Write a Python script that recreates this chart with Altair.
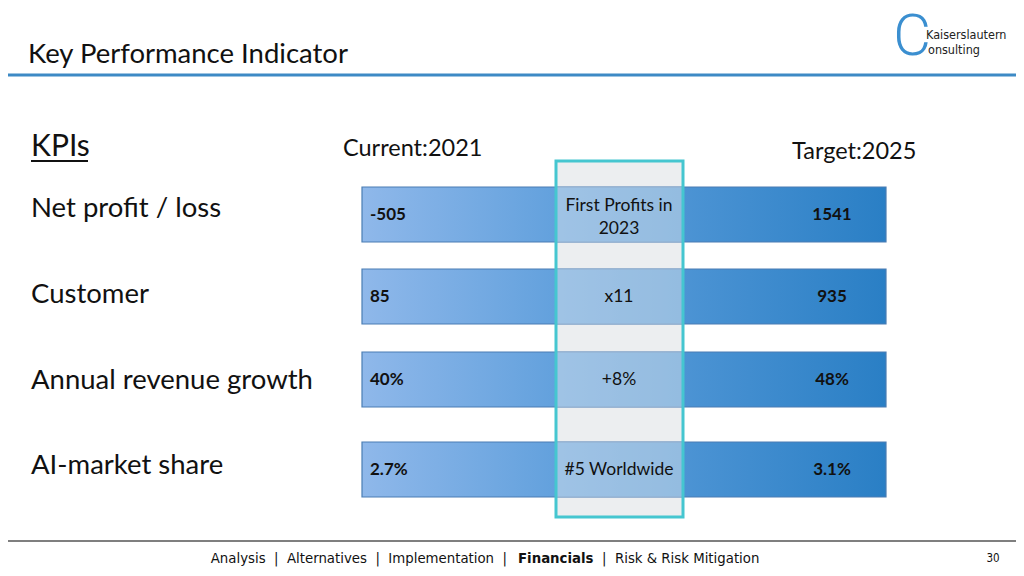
import altair as alt
import pandas as pd

# ---- data ----
kpi_names = ["Net profit / loss", "Customer", "Annual revenue growth", "AI-market share"]
current_vals = ["-505", "85", "40%", "2.7%"]
target_vals = ["1541", "935", "48%", "3.1%"]
middle_notes = ["First Profits in\n2023", "x11", "+8%", "#5 Worldwide"]
current_label = "Current:2021"
target_label = "Target:2025"
title_text = "Key Performance Indicator"
section_text = "KPIs"
NB = "\u00a0"
footer_left = f"Analysis{NB*2}|{NB*2}Alternatives{NB*2}|{NB*2}Implementation{NB*2}|"
footer_bold = "Financials"
footer_right = f"|{NB*2}Risk & Risk Mitigation"
page_no = "30"

# ---- layout (pixel coordinates of the slide) ----
W, H = 1008, 560
row_top = [187, 269, 352, 442]
label_y = [209, 295, 381, 466]
bar_h = 55
line_h = 23
bar_x0, bar_x1 = 362, 886
box_x0, box_x1, box_y0, box_y1 = 556, 683, 161, 517

X = alt.X("x:Q", scale=alt.Scale(domain=[8, 1016], range=[0, W], nice=False, zero=False), axis=None)
X2 = alt.X2("x2:Q")
Y = alt.Y("y:Q", scale=alt.Scale(domain=[8, 568], range=[0, H], nice=False, zero=False), axis=None)
Y2 = alt.Y2("y2:Q")

rows = pd.DataFrame({
    "name": kpi_names,
    "cur": current_vals,
    "tgt": target_vals,
    "mid": middle_notes,
    "top": row_top,
    "ly": label_y,
})
rows["bottom"] = rows["top"] + bar_h
rows["yc"] = rows["top"] + bar_h / 2
nlines = rows["mid"].str.count("\n")
rows["my"] = rows["yc"] - nlines * line_h / 2 + nlines * 3

def txt(df, **kw):
    return alt.Chart(df).mark_text(**kw)

# title
title = txt(pd.DataFrame({"x": [28], "y": [55], "t": [title_text]}),
            align="left", baseline="middle", font="Lato", fontSize=27.5, color="#111111"
            ).encode(x=X, y=Y, text="t:N")
title_rule = alt.Chart(pd.DataFrame({"x": [8], "x2": [1016], "y": [75]})).mark_rule(
    color="#3d8ac5", strokeWidth=3).encode(x=X, x2=X2, y=Y)

# logo
logo_c = txt(pd.DataFrame({"x": [912], "y": [38], "t": ["C"]}),
             align="center", baseline="middle", font="Roboto", fontWeight=300, fontSize=58,
             color="#3b8fd0").encode(x=X, y=Y, text="t:N")
logo_t = txt(pd.DataFrame({"x": [926, 928], "y": [35, 50], "t": ["Kaiserslautern", "onsulting"]}),
             align="left", baseline="middle", font="DejaVu Sans Condensed", fontSize=12.5,
             color="#222222").encode(x=X, y=Y, text="t:N")

# section heading
kpis = txt(pd.DataFrame({"x": [31], "y": [147], "t": [section_text]}),
           align="left", baseline="middle", font="Lato", fontSize=30, color="#111111"
           ).encode(x=X, y=Y, text="t:N")
kpis_rule = alt.Chart(pd.DataFrame({"x": [31], "x2": [88], "y": [161]})).mark_rule(
    color="#111111", strokeWidth=2).encode(x=X, x2=X2, y=Y)

heads = txt(pd.DataFrame({"x": [343, 792], "y": [149, 152], "t": [current_label, target_label]}),
            align="left", baseline="middle", font="Lato", fontSize=23.5, color="#111111"
            ).encode(x=X, y=Y, text="t:N")

labels = alt.Chart(rows.assign(x=31, y=rows["ly"])).mark_text(
    align="left", baseline="middle", font="Lato", fontSize=27.5, color="#111111"
).encode(x=X, y=Y, text="name:N")

# middle box background
box_bg = alt.Chart(pd.DataFrame({"x": [box_x0], "x2": [box_x1], "y": [box_y0], "y2": [box_y1]})).mark_rect(
    fill="#eceef0").encode(x=X, x2=X2, y=Y, y2=Y2)

grad = alt.Gradient(gradient="linear",
                    stops=[alt.GradientStop(color="#8fb8ea", offset=0),
                           alt.GradientStop(color="#5f9fdc", offset=0.4),
                           alt.GradientStop(color="#2a7fc5", offset=1)],
                    x1=0, x2=1, y1=0, y2=0)
bars = alt.Chart(rows.assign(x=bar_x0, x2=bar_x1, y=rows["top"], y2=rows["bottom"])).mark_rect(
    fill=grad, stroke="#4a7db3", strokeWidth=1.2).encode(x=X, x2=X2, y=Y, y2=Y2)

overlay = alt.Chart(rows.assign(x=box_x0, x2=box_x1, y=rows["top"], y2=rows["bottom"])).mark_rect(
    fill="#eceef0", opacity=0.45).encode(x=X, x2=X2, y=Y, y2=Y2)

box_border = alt.Chart(pd.DataFrame({"x": [box_x0], "x2": [box_x1], "y": [box_y0], "y2": [box_y1]})).mark_rect(
    fillOpacity=0, stroke="#45c6d0", strokeWidth=3).encode(x=X, x2=X2, y=Y, y2=Y2)

cur_t = alt.Chart(rows.assign(x=370, y=rows["yc"])).mark_text(
    align="left", baseline="middle", font="Lato", fontSize=17, fontWeight="bold", color="#111111"
).encode(x=X, y=Y, text="cur:N")
tgt_t = alt.Chart(rows.assign(x=832, y=rows["yc"])).mark_text(
    align="center", baseline="middle", font="Lato", fontSize=17, fontWeight="bold", color="#111111"
).encode(x=X, y=Y, text="tgt:N")
mid_t = alt.Chart(rows.assign(x=619, y=rows["my"])).mark_text(
    align="center", baseline="middle", font="Lato", fontSize=17.5, color="#111111", lineBreak="\n",
    lineHeight=line_h
).encode(x=X, y=Y, text="mid:N")

# footer
foot_rule = alt.Chart(pd.DataFrame({"x": [8], "x2": [1016], "y": [541]})).mark_rule(
    color="#7f7f7f", strokeWidth=2).encode(x=X, x2=X2, y=Y)
foot_l = txt(pd.DataFrame({"x": [507], "y": [559], "t": [footer_left]}),
             align="right", baseline="middle", font="DejaVu Sans Condensed", fontSize=14.8,
             color="#111111").encode(x=X, y=Y, text="t:N")
foot_b = txt(pd.DataFrame({"x": [518], "y": [559], "t": [footer_bold]}),
             align="left", baseline="middle", font="DejaVu Sans Condensed", fontSize=14.8,
             fontWeight="bold", color="#111111").encode(x=X, y=Y, text="t:N")
foot_r = txt(pd.DataFrame({"x": [602], "y": [559], "t": [footer_right]}),
             align="left", baseline="middle", font="DejaVu Sans Condensed", fontSize=14.8,
             color="#111111").encode(x=X, y=Y, text="t:N")
foot_p = txt(pd.DataFrame({"x": [993], "y": [559], "t": [page_no]}),
             align="center", baseline="middle", font="DejaVu Sans Condensed", fontSize=11.5,
             color="#111111").encode(x=X, y=Y, text="t:N")

chart = alt.layer(
    title_rule, title, logo_c, logo_t, kpis, kpis_rule, heads, labels,
    box_bg, bars, overlay, box_border, cur_t, tgt_t, mid_t,
    foot_rule, foot_l, foot_b, foot_r, foot_p
).properties(width=W, height=H, padding=0, background="white",
             autosize=alt.AutoSizeParams(type="none")
).configure_view(stroke=None)

chart.save("out.html", embed_options={"renderer": "svg", "actions": False})
